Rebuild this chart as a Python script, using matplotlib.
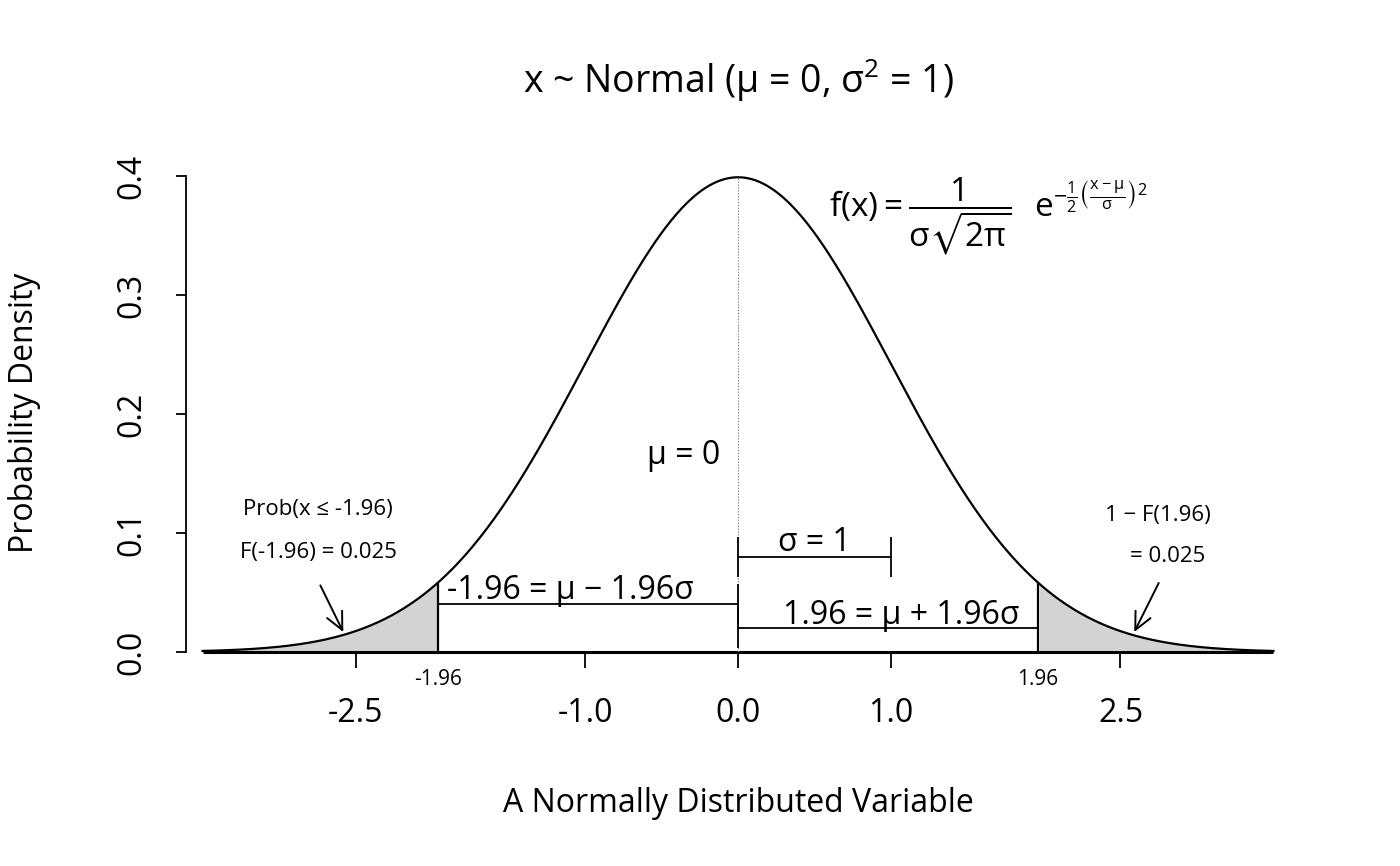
import numpy as np
import matplotlib
matplotlib.use('Agg')
import matplotlib.pyplot as plt

# parameters of the distribution and the marked cut-offs
mu = 0.0
sigma = 1.0
crit = 1.96
x_range = (-3.5, 3.5)
x_ticks = [-2.5, -1.0, 0.0, 1.0, 2.5]
x_tick_labels = ['-2.5', '-1.0', '0.0', '1.0', '2.5']
y_ticks = [0.0, 0.1, 0.2, 0.3, 0.4]
y_tick_labels = ['0.0', '0.1', '0.2', '0.3', '0.4']

# interval bars: (start, end, height)
bars_start = [0.0, -1.96, 0.0]
bars_end = [1.0, 0.0, 1.96]
bars_y = [0.08, 0.04, 0.02]

plt.rcParams['font.family'] = ['Open Sans', 'DejaVu Sans']
plt.rcParams['mathtext.fontset'] = 'custom'
plt.rcParams['mathtext.rm'] = 'Open Sans'
plt.rcParams['mathtext.it'] = 'Open Sans'
plt.rcParams['mathtext.sf'] = 'Open Sans'
plt.rcParams['mathtext.default'] = 'rm'
plt.rcParams['mathtext.fallback'] = 'stix'

x = np.linspace(x_range[0], x_range[1], 600)
dens = np.exp(-0.5 * ((x - mu) / sigma) ** 2) / (sigma * np.sqrt(2 * np.pi))

fig = plt.figure(figsize=(14, 8.66), dpi=100)
ax = fig.add_axes([186 / 1400, 214 / 866, 1104 / 1400, 476 / 866])
ax.set_xlim(-3.608, 3.608)
ax.set_ylim(0, 0.4)

# shaded tails
left = x <= -crit
right = x >= crit
ax.fill_between(x[left], 0, dens[left], color='#D3D3D3', lw=0)
ax.fill_between(x[right], 0, dens[right], color='#D3D3D3', lw=0)
pdf_crit = np.exp(-0.5 * crit ** 2) / np.sqrt(2 * np.pi)
ax.vlines([-crit, crit], 0, pdf_crit, color='black', lw=1.6)

ax.plot(x, dens, color='black', lw=1.6, clip_on=False)
ax.hlines(0, x[0], x[-1], color='black', lw=2.2, clip_on=False)
ax.vlines(mu, 0, dens.max(), color='grey', lw=0.7, linestyles=(0, (1.5, 1.5)))

# interval bars with flat end caps
cap = 0.0168
for a, b, h in zip(bars_start, bars_end, bars_y):
    ax.hlines(h, a, b, color='black', lw=1.3)
    ax.vlines([a, b], h - cap, h + cap, color='black', lw=1.3)

ax.text(0.5, 0.0924, 'σ = 1', fontsize=23, ha='center', va='center')
ax.text(-1.098, 0.052, '-1.96 = μ − 1.96σ', fontsize=23, ha='center', va='center')
ax.text(1.065, 0.0303, '1.96 = μ + 1.96σ', fontsize=23, ha='center', va='center')
ax.text(-0.353, 0.1655, 'μ = 0', fontsize=23, ha='center', va='center')

# tail annotations
ax.text(-2.745, 0.120, 'Prob(x ≤ -1.96)', fontsize=16, ha='center', va='center')
ax.text(-2.745, 0.084, 'F(-1.96) = 0.025', fontsize=16, ha='center', va='center')
ax.text(2.745, 0.115, '1 − F(1.96)', fontsize=16, ha='center', va='center')
ax.text(2.81, 0.080, '= 0.025', fontsize=16, ha='center', va='center')
arrow = dict(arrowstyle='->,head_length=1.25,head_width=0.6', mutation_scale=10,
             lw=1.4, color='black', shrinkA=0, shrinkB=0)
ax.annotate('', xy=(-2.58, 0.0168), xytext=(-2.73, 0.056), arrowprops=arrow)
ax.annotate('', xy=(2.59, 0.0168), xytext=(2.75, 0.058), arrowprops=arrow)

# formula
ax.text(1.64, 0.366,
        r'$f(x) = \dfrac{1}{\sigma\sqrt{2\pi}}\ \ e^{-\frac{1}{2}\left(\frac{x-\mu}{\sigma}\right)^2}$',
        fontsize=24, ha='center', va='center')

# small labels for the cut-offs
for c in [-crit, crit]:
    ax.annotate('%.2f' % c, xy=(c, 0), xytext=(0, -19.5), textcoords='offset points',
                ha='center', va='center', fontsize=15)

for s in ['top', 'right', 'bottom']:
    ax.spines[s].set_visible(False)
ax.spines['left'].set_bounds(0, 0.4)
ax.spines['left'].set_linewidth(1.3)
ax.set_xticks(x_ticks)
ax.set_xticklabels(x_tick_labels)
ax.set_yticks(y_ticks)
ax.set_yticklabels(y_tick_labels, rotation=90, va='center')
ax.tick_params(axis='x', length=11.5, width=1.3, pad=21, labelsize=23)
ax.tick_params(axis='y', length=7.2, width=1.3, pad=20, labelsize=23)

fig.text(738 / 1400, 1 - 80 / 866, r'x ~ Normal (μ = 0, $\sigma^2$ = 1)',
         fontsize=27, ha='center', va='center')
fig.text(738 / 1400, 1 - 803 / 866, 'A Normally Distributed Variable',
         fontsize=23, ha='center', va='center')
fig.text(25 / 1400, 1 - 413 / 866, 'Probability Density', fontsize=23,
         ha='center', va='center', rotation=90)

fig.savefig('out.png', dpi=100)
